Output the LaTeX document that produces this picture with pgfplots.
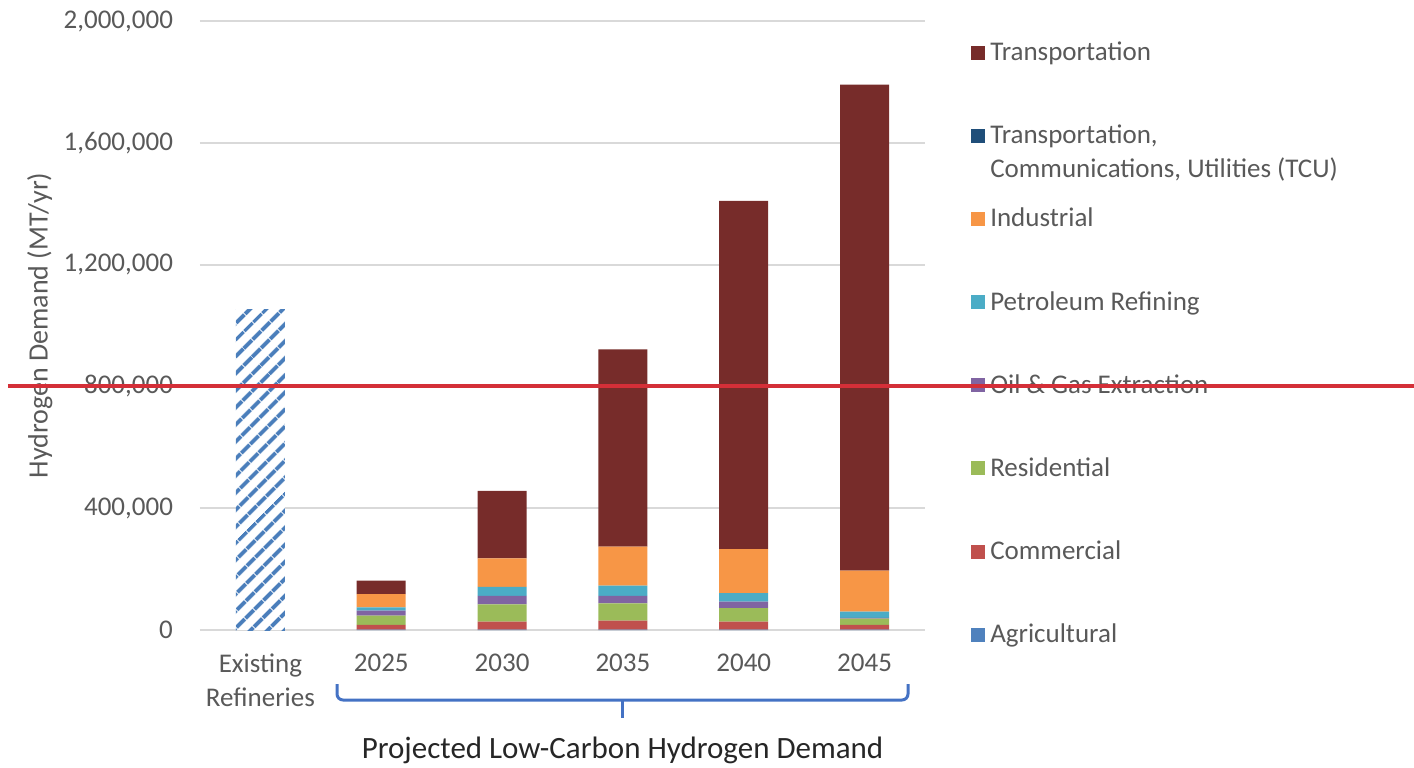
\documentclass[border=0pt]{standalone}
\usepackage{pgfplots}
\pgfplotsset{compat=1.18}
\usepackage{pgfplotstable}
\usepackage{fontspec}
\setmainfont{Carlito}
\usetikzlibrary{patterns.meta}

\definecolor{cTra}{HTML}{772C2A}
\definecolor{cTcu}{HTML}{1F4E79}
\definecolor{cInd}{HTML}{F79646}
\definecolor{cPet}{HTML}{4BACC6}
\definecolor{cOag}{HTML}{8064A2}
\definecolor{cRes}{HTML}{9BBB59}
\definecolor{cCom}{HTML}{C0504D}
\definecolor{cAgr}{HTML}{4F81BD}
\definecolor{cHatch}{HTML}{4A7EBB}
\definecolor{txt}{HTML}{595959}
\definecolor{gridc}{HTML}{D9D9D9}
\definecolor{brace}{HTML}{4472C4}
\definecolor{redline}{RGB}{212,47,56}

% x = category index (0 = existing refineries, 1..5 = 2025..2045)
\pgfplotstableread{
x  exist    agr   com    res    oag    pet    ind     tcu  tra
0  1051000  0     0      0      0      0      0       0    0
1  0        1000  15500  30500  16400  11000  43700   0    43700
2  0        1000  26500  57000  28000  29500  93000   0    222000
3  0        1000  29500  57000  25000  33000  128000  0    648000
4  0        1000  26500  44000  21700  27600  144500  0    1144000
5  0        1000  16000  20000  3000   20000  135000  0    1596000
}\demand

\begin{document}
\begin{tikzpicture}
\path[use as bounding box] (-100pt,-68.5pt) rectangle (607pt,315pt);
\begin{axis}[
  at={(0,0)}, anchor=south west,
  scale only axis, width=362.5pt, height=304.5pt,
  xmin=-0.5, xmax=5.5, ymin=0, ymax=2000000,
  ybar stacked, bar width=24.5pt,
  clip=false,
  axis line style={draw=none}, tick style={draw=none},
  ymajorgrids, grid style={draw=gridc, line width=1pt},
  xtick={0,...,5},
  xticklabels={{Existing\\Refineries},2025,2030,2035,2040,2045},
  xticklabel style={align=center, anchor=north, yshift=-8.5pt,
    font=\fontsize{13.5}{16.8}\selectfont, text=txt},
  ytick={0,400000,800000,1200000,1600000,2000000},
  scaled y ticks=false,
  /pgf/number format/assume math mode=true,
  yticklabel style={/pgf/number format/.cd, fixed, 1000 sep={,}, /tikz/.cd,
    font=\fontsize{13.5}{16}\selectfont, text=txt, xshift=-10pt},
  ylabel={Hydrogen Demand (MT/yr)},
  ylabel style={at={(axis description cs:-0.221,0.5)}, anchor=center,
    font=\fontsize{14}{16}\selectfont, text=txt},
  reverse legend,
  legend cell align=left,
  legend image code/.code={\fill[#1, draw=none] (0pt,-3.5pt) rectangle (7pt,3.5pt);},
  legend style={at={(rel axis cs:1.055,0.981)}, anchor=north west, draw=none,
    fill=none, row sep=25.7pt,
    font=\fontsize{13.5}{16}\selectfont, text=txt,
    nodes={inner sep=2.5pt}},
]
\addplot[fill=white, draw=none, forget plot,
  postaction={pattern={Lines[angle=45, distance=6.5pt, line width=2.2pt]},
  pattern color=cHatch}] table[x=x, y=exist] {\demand};
\addplot[fill=cAgr, draw=none] table[x=x, y=agr] {\demand};
\addplot[fill=cCom, draw=none] table[x=x, y=com] {\demand};
\addplot[fill=cRes, draw=none] table[x=x, y=res] {\demand};
\addplot[fill=cOag, draw=none] table[x=x, y=oag] {\demand};
\addplot[fill=cPet, draw=none] table[x=x, y=pet] {\demand};
\addplot[fill=cInd, draw=none] table[x=x, y=ind] {\demand};
\addplot[fill=cTcu, draw=none] table[x=x, y=tcu] {\demand};
\addplot[fill=cTra, draw=none] table[x=x, y=tra] {\demand};
\legend{Agricultural, Commercial, Residential, Oil \& Gas Extraction,
  Petroleum Refining, Industrial,
  {\rlap{\raisebox{-17pt}[0pt][0pt]{Communications, Utilities (TCU)}}Transportation,},
  Transportation}
\coordinate (r) at (axis cs:0,800000);
\end{axis}
\draw[brace, line width=1.5pt, rounded corners=3pt]
  (68.5pt,-27pt) -- (68.5pt,-35pt) -- (354pt,-35pt) -- (354pt,-27pt);
\draw[brace, line width=1.5pt] (211.25pt,-35pt) -- (211.25pt,-44pt);
\node[font=\fontsize{15.5}{18}\selectfont, text=black!85] at (211.25pt,-60pt)
  {Projected Low-Carbon Hydrogen Demand};
\draw[redline, line width=2pt] (-96pt,0pt |- r) -- (607pt,0pt |- r);
\end{tikzpicture}
\end{document}
